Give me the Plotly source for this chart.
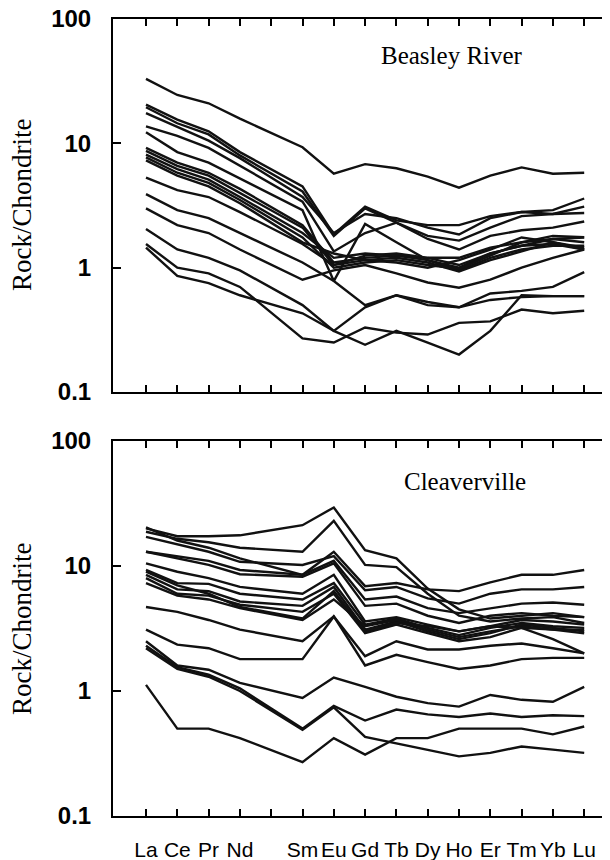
import plotly.graph_objects as go

# ---- categories / tick labels ----
ELEMENTS = ["La", "Ce", "Pr", "Nd", "Pm", "Sm", "Eu", "Gd", "Tb", "Dy", "Ho", "Er", "Tm", "Yb", "Lu"]
REE_PLOTTED = ["La", "Ce", "Pr", "Nd", "Sm", "Eu", "Gd", "Tb", "Dy", "Ho", "Er", "Tm", "Yb", "Lu"]
X_TICK_TEXT = ["La", "Ce", "Pr", "Nd", "", "Sm", "Eu", "Gd", "Tb", "Dy", "Ho", "Er", "Tm", "Yb", "Lu"]
Y_TICKS = [0.1, 1, 10, 100]
Y_TICK_TEXT = ["0.1", "1", "10", "100"]
PANEL_TITLES = ["Beasley River", "Cleaverville"]
Y_TITLE = "Rock/Chondrite"

# ---- Beasley River samples (Rock/Chondrite; La..Lu without Pm) ----
br01 = [33, 24.5, 21, 15.8, 9.3, 5.7, 6.8, 6.3, 5.4, 4.4, 5.5, 6.4, 5.7, 5.8]
br02 = [20.5, 15.5, 12.5, 8.5, 4.5, 1.85, 3.1, 2.4, 2.2, 2.2, 2.6, 2.8, 2.9, 3.6]
br03 = [19.5, 14.5, 11.8, 8.0, 4.1, 1.8, 3.0, 2.3, 1.8, 1.65, 2.1, 2.6, 2.7, 3.1]
br04 = [17.5, 13.5, 10.5, 7.6, 3.7, 1.9, 2.7, 2.5, 2.1, 1.85, 2.5, 2.8, 2.7, 2.75]
br05 = [13.7, 11.5, 9.2, 6.6, 3.4, 1.35, 1.9, 2.3, 1.7, 1.4, 1.8, 2.0, 2.1, 2.35]
br06 = [12.3, 8.5, 7.0, 5.2, 2.9, 0.78, 2.25, 1.6, 1.15, 1.0, 1.3, 1.5, 1.7, 1.75]
br07 = [9.2, 7.0, 5.8, 4.3, 2.2, 1.1, 1.2, 1.25, 1.15, 0.95, 1.2, 1.4, 1.5, 1.5]
br08 = [8.7, 6.6, 5.5, 4.0, 2.1, 1.05, 1.15, 1.2, 1.1, 0.93, 1.15, 1.35, 1.6, 1.45]
br09 = [8.1, 6.2, 5.1, 3.7, 1.9, 1.2, 1.3, 1.25, 1.2, 1.05, 1.3, 1.5, 1.55, 1.4]
br10 = [7.7, 5.8, 4.8, 3.5, 1.75, 1.0, 1.1, 1.15, 1.05, 0.98, 1.25, 1.6, 1.8, 1.76]
br11 = [7.3, 5.5, 4.5, 3.3, 1.6, 1.3, 1.15, 1.1, 1.0, 1.15, 1.4, 1.75, 1.6, 1.4]
br12 = [5.3, 4.2, 3.7, 2.8, 1.55, 1.05, 1.25, 1.3, 1.2, 1.2, 1.45, 1.6, 1.7, 1.6]
br13 = [3.9, 2.9, 2.5, 1.9, 1.1, 0.78, 0.5, 0.6, 0.53, 0.48, 0.62, 0.65, 0.7, 0.92]
br14 = [3.0, 2.2, 1.9, 1.4, 0.8, 0.95, 1.05, 0.9, 0.76, 0.69, 0.8, 1.0, 1.2, 1.4]
br15 = [2.05, 1.4, 1.2, 0.95, 0.5, 0.31, 0.24, 0.31, 0.25, 0.2, 0.31, 0.6, 0.59, 0.59]
br16 = [1.55, 1.0, 0.9, 0.7, 0.27, 0.25, 0.33, 0.30, 0.29, 0.36, 0.37, 0.46, 0.43, 0.45]
br17 = [1.45, 0.86, 0.75, 0.6, 0.43, 0.31, 0.48, 0.6, 0.5, 0.48, 0.55, 0.58, 0.59, 0.59]
beasley = [br01, br02, br03, br04, br05, br06, br07, br08, br09,
           br10, br11, br12, br13, br14, br15, br16, br17]

# ---- Cleaverville samples ----
cv01 = [20.0, 17.3, 17.3, 17.6, 21.2, 29.4, 13.4, 11.5, 6.6, 4.5, 3.8, 4.0, 4.2, 3.9]
cv02 = [18.8, 16.5, 15.5, 14.0, 13.0, 23.0, 10.2, 9.8, 6.0, 4.0, 3.6, 3.8, 3.9, 3.5]
cv03 = [20.4, 16.0, 14.0, 11.5, 8.5, 13.0, 6.9, 7.3, 6.5, 6.3, 7.4, 8.5, 8.5, 9.3]
cv04 = [17.1, 15.0, 13.0, 10.8, 10.2, 12.0, 6.4, 6.8, 5.5, 5.0, 6.0, 6.5, 6.5, 6.8]
cv05 = [13.0, 12.0, 11.0, 9.3, 8.5, 11.0, 5.4, 5.7, 4.6, 4.2, 4.6, 5.0, 5.1, 4.9]
cv06 = [13.0, 11.5, 10.2, 8.6, 8.2, 10.5, 4.8, 5.0, 4.0, 3.5, 4.0, 4.2, 4.0, 3.9]
cv07 = [10.5, 9.0, 8.0, 6.8, 6.0, 8.5, 3.6, 3.9, 3.4, 3.0, 3.3, 3.7, 3.6, 3.4]
cv08 = [9.3, 7.3, 7.2, 6.0, 5.4, 7.3, 3.4, 3.8, 3.2, 2.8, 3.2, 3.5, 3.3, 3.2]
cv09 = [8.5, 6.5, 6.3, 5.2, 4.8, 6.8, 3.1, 3.6, 3.0, 2.6, 2.9, 3.4, 3.2, 3.0]
cv10 = [8.0, 6.0, 5.8, 4.9, 4.3, 6.0, 2.9, 3.4, 2.9, 2.5, 2.7, 3.2, 3.1, 2.9]
cv11 = [7.3, 5.8, 5.4, 4.6, 3.7, 5.4, 3.3, 3.7, 3.1, 2.7, 3.0, 3.3, 3.1, 3.1]
cv12 = [9.0, 7.0, 6.0, 4.7, 3.8, 6.3, 3.0, 3.5, 3.3, 3.0, 3.3, 3.2, 2.6, 2.0]
cv13 = [4.7, 4.3, 3.7, 3.1, 2.5, 3.95, 1.9, 2.5, 2.15, 2.15, 2.3, 2.4, 2.2, 2.0]
cv14 = [3.1, 2.35, 2.2, 1.8, 1.8, 3.95, 1.6, 1.95, 1.7, 1.5, 1.6, 1.8, 1.84, 1.84]
cv15 = [2.5, 1.6, 1.48, 1.16, 0.88, 1.28, 1.08, 0.9, 0.8, 0.75, 0.93, 0.85, 0.82, 1.08]
cv16 = [2.3, 1.55, 1.35, 1.05, 0.5, 0.76, 0.58, 0.71, 0.65, 0.62, 0.66, 0.62, 0.64, 0.63]
cv17 = [2.2, 1.5, 1.3, 1.0, 0.49, 0.74, 0.43, 0.38, 0.34, 0.3, 0.32, 0.36, 0.34, 0.32]
cv18 = [1.12, 0.5, 0.5, 0.42, 0.27, 0.42, 0.31, 0.42, 0.42, 0.5, 0.5, 0.5, 0.45, 0.52]
cleaverville = [cv01, cv02, cv03, cv04, cv05, cv06, cv07, cv08, cv09,
                cv10, cv11, cv12, cv13, cv14, cv15, cv16, cv17, cv18]

# ---- geometry (page has an 8px body margin, so figure px = screen px - 8) ----
OFF = 8
W, H = 610, 860
ML = 113 - OFF            # left frame
MR = W - (612 - OFF)      # right frame just beyond the visible window
LA_PX, STEP = 146 - OFF, 31.3
X_RANGE = [(ML - LA_PX) / STEP, ((W - MR) - LA_PX) / STEP]
LINE = dict(color="#111111", width=2.4)

fig = go.Figure()
for s in beasley:
    fig.add_trace(go.Scatter(x=REE_PLOTTED, y=s, mode="lines", line=LINE,
                             xaxis="x", yaxis="y", showlegend=False, hoverinfo="skip"))
for s in cleaverville:
    fig.add_trace(go.Scatter(x=REE_PLOTTED, y=s, mode="lines", line=LINE,
                             xaxis="x2", yaxis="y2", showlegend=False, hoverinfo="skip"))
# carriers for the right-hand tick axes
fig.add_trace(go.Scatter(x=[None], y=[None], xaxis="x", yaxis="y3", showlegend=False, hoverinfo="skip"))
fig.add_trace(go.Scatter(x=[None], y=[None], xaxis="x2", yaxis="y4", showlegend=False, hoverinfo="skip"))

def dom(top_px, bot_px):
    return [1 - (bot_px - OFF) / H, 1 - (top_px - OFF) / H]

x_common = dict(type="category", categoryorder="array", categoryarray=ELEMENTS,
                range=X_RANGE, showline=True, linecolor="black", linewidth=2,
                mirror="ticks", ticks="inside", ticklen=7, tickwidth=1.6, tickcolor="black",
                tickmode="array", tickvals=ELEMENTS, ticktext=X_TICK_TEXT,
                showgrid=False, zeroline=False, fixedrange=True, automargin=False)
y_common = dict(type="log", range=[-1, 2], showline=True, linecolor="black", linewidth=2,
                mirror=False, ticks="inside", ticklen=8, tickwidth=1.6, tickcolor="black",
                tickmode="array", tickvals=Y_TICKS, ticktext=Y_TICK_TEXT,
                tickfont=dict(family="Liberation Sans", size=24, color="black", weight="bold"),
                ticklabelstandoff=15, ticklabeloverflow="allow",
                showgrid=False, zeroline=False, fixedrange=True, automargin=False)
y_right = dict(type="log", range=[-1, 2], side="right", showline=False, ticks="inside",
               ticklen=8, tickwidth=1.6, tickcolor="black", tickmode="array", tickvals=[1, 10],
               showticklabels=False, showgrid=False, zeroline=False, fixedrange=True,
               automargin=False)

fig.update_layout(
    template="none",
    width=W, height=H, margin=dict(l=ML, r=MR, t=0, b=0, pad=0, autoexpand=False),
    paper_bgcolor="white", plot_bgcolor="white",
    xaxis=dict(x_common, anchor="y", domain=[0, 1], showticklabels=False),
    yaxis=dict(y_common, anchor="x", domain=dom(19, 392)),
    xaxis2=dict(x_common, anchor="y2", domain=[0, 1], showticklabels=True,
                tickfont=dict(family="Liberation Sans", size=21, color="black"),
                ticklabelstandoff=14),
    yaxis2=dict(y_common, anchor="x2", domain=dom(441, 816)),
    yaxis3=dict(y_right, overlaying="y", anchor="x"),
    yaxis4=dict(y_right, overlaying="y2", anchor="x2"),
)

pw = W - ML - MR
def px_x(p):
    return (p - OFF - ML) / pw
def px_y(p):
    return 1 - (p - OFF) / H

annos = [
    dict(text=PANEL_TITLES[0], x=px_x(452), y=px_y(55)),
    dict(text=PANEL_TITLES[1], x=px_x(465), y=px_y(481)),
]
for a in annos:
    fig.add_annotation(xref="paper", yref="paper", showarrow=False, xanchor="center", yanchor="middle",
                       font=dict(family="Liberation Serif", size=25, color="black"), **a)
for yc in (205, 629):
    fig.add_annotation(text=Y_TITLE, xref="paper", yref="paper", x=px_x(22), y=px_y(yc),
                       showarrow=False, textangle=-90, xanchor="center", yanchor="middle",
                       font=dict(family="Liberation Serif", size=27, color="black"))

fig.write_html("out.html")
